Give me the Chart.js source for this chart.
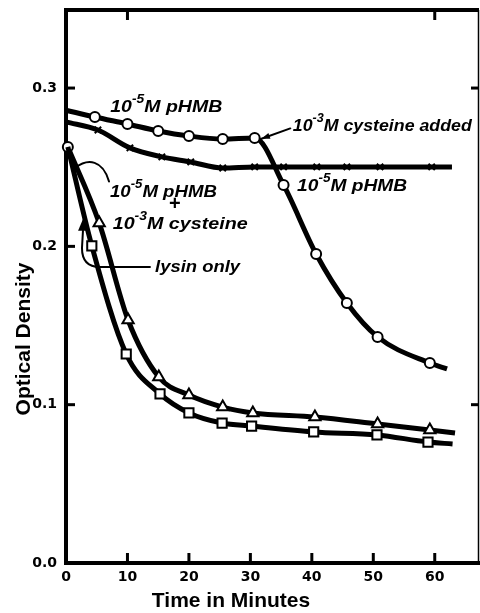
<!DOCTYPE html>
<html><head><meta charset="utf-8">
<script src="https://cdn.jsdelivr.net/npm/chart.js@4.4.1/dist/chart.umd.min.js"></script>
<style>html,body{margin:0;padding:0;background:#fff;}#wrap{width:480px;height:613px;position:relative;}</style>
</head><body><div id="wrap"><canvas id="c" width="480" height="613"></canvas></div>
<script>
// ---- data ----
const xTicks = [0, 10, 20, 30, 40, 50, 60];
const yTicks = [0.0, 0.1, 0.2, 0.3];
// 10^-5 M pHMB, then 10^-3 M cysteine added at ~30 min (open circles)
const pHMBTime = [0, 4.7, 10, 15, 20, 25.5, 30.7, 35.4, 40.7, 45.7, 50.7, 59.2, 62];
const pHMBOD   = [0.286, 0.2817, 0.2773, 0.2729, 0.2697, 0.2678, 0.2685, 0.2388, 0.1952, 0.1642, 0.1428, 0.1263, 0.1226];
// 10^-5 M pHMB (crosses)
const crossTime = [0, 5.2, 10.4, 15.6, 20.3, 25.5, 30.7, 35.4, 40.8, 45.7, 51.1, 59.5, 62.8];
const crossOD   = [0.2786, 0.2735, 0.2622, 0.2565, 0.2533, 0.2495, 0.2502, 0.2502, 0.2502, 0.2502, 0.2502, 0.2502, 0.2502];
// 10^-5 M pHMB + 10^-3 M cysteine (triangles)
const triTime = [0.3, 5.4, 10.1, 15.1, 20, 25.5, 30.4, 40.5, 50.7, 59.2, 63.3];
const triOD   = [0.2628, 0.2148, 0.1535, 0.1175, 0.1061, 0.0985, 0.0948, 0.0922, 0.0878, 0.0840, 0.0821];
// lysin only (squares)
const sqTime = [0.3, 4.2, 9.8, 15.3, 20, 25.4, 30.2, 40.3, 50.6, 58.9, 62.9];
const sqOD   = [0.2628, 0.2003, 0.1320, 0.1068, 0.0948, 0.0884, 0.0865, 0.0828, 0.0809, 0.0764, 0.0752];

const xTitle = 'Time in Minutes';
const yTitle = 'Optical Density';
const labelPHMBTop   = [['10',0],['-5',1],['M pHMB',0]];
const labelCysAdded  = [['10',0],['-3',1],['M cysteine added',0]];
const labelPHMBRight = [['10',0],['-5',1],['M pHMB',0]];
const labelPHMBLow   = [['10',0],['-5',1],['M pHMB',0]];
const labelCys       = [['10',0],['-3',1],['M cysteine',0]];
const labelLysin     = [['lysin only',0]];

const pts = (xs, ys) => xs.map((x, i) => ({x, y: ys[i]}));
const ends = (n, r) => Array.from({length: n}, (_, i) => (i === 0 || i === n - 1) ? 0 : r);

function drawRich(ctx, parts, x, y, size, width) {
  const big = `italic bold ${size}px "Liberation Sans", Arial, sans-serif`;
  const small = `italic bold ${Math.round(size * 0.68)}px "Liberation Sans", Arial, sans-serif`;
  let w = 0;
  parts.forEach(p => { ctx.font = p[1] ? small : big; w += ctx.measureText(p[0]).width; });
  const sx = width ? width / w : 1;
  ctx.save();
  ctx.translate(x, y); ctx.scale(sx, 1);
  ctx.textAlign = 'left'; ctx.textBaseline = 'alphabetic';
  let cx = 0;
  parts.forEach(p => {
    ctx.font = p[1] ? small : big;
    ctx.fillText(p[0], cx, p[1] ? -size * 0.5 : 0);
    cx += ctx.measureText(p[0]).width;
  });
  ctx.restore();
}

const decor = {
  id: 'decor',
  afterDraw(chart) {
    const ctx = chart.ctx, a = chart.chartArea;
    const X = v => chart.scales.x.getPixelForValue(v);
    const Y = v => chart.scales.y.getPixelForValue(v);
    ctx.save();
    ctx.strokeStyle = '#000'; ctx.fillStyle = '#000';
    // frame top and right
    ctx.lineWidth = 4;
    ctx.beginPath(); ctx.moveTo(a.left - 2, a.top); ctx.lineTo(a.right, a.top); ctx.stroke();
    ctx.lineWidth = 1.5;
    ctx.beginPath(); ctx.moveTo(a.right - 0.5, a.top); ctx.lineTo(a.right - 0.5, a.bottom); ctx.stroke();
    // inward ticks
    ctx.lineWidth = 3;
    xTicks.slice(1).forEach(v => { ctx.beginPath(); ctx.moveTo(X(v), a.bottom); ctx.lineTo(X(v), a.bottom - 10); ctx.stroke(); });
    [10, 60].forEach(v => { ctx.beginPath(); ctx.moveTo(X(v), a.top); ctx.lineTo(X(v), a.top + 10); ctx.stroke(); });
    yTicks.slice(1).forEach(v => { ctx.beginPath(); ctx.moveTo(a.left, Y(v)); ctx.lineTo(a.left + 9, Y(v)); ctx.stroke(); });
    [0.1, 0.3].forEach(v => { ctx.beginPath(); ctx.moveTo(a.right, Y(v)); ctx.lineTo(a.right - 8, Y(v)); ctx.stroke(); });

    // axis titles
    ctx.font = 'bold 21px "Liberation Sans", Arial, sans-serif';
    ctx.textAlign = 'center'; ctx.textBaseline = 'middle';
    ctx.fillText(xTitle, 231, 601);
    ctx.save(); ctx.translate(24, 339); ctx.rotate(-Math.PI / 2);
    ctx.fillText(yTitle, 0, 0); ctx.restore();

    // annotations
    drawRich(ctx, labelPHMBTop, X(7.2), Y(0.2849), 17, 112);
    drawRich(ctx, labelCysAdded, X(36.9), Y(0.2729), 17, 179);
    drawRich(ctx, labelPHMBRight, X(37.6), Y(0.2350), 17, 110);
    drawRich(ctx, labelPHMBLow, X(7.15), Y(0.2312), 17, 107);
    ctx.font = 'bold 20px "Liberation Sans", Arial, sans-serif';
    ctx.textAlign = 'center'; ctx.textBaseline = 'middle';
    ctx.fillText('+', X(17.7), Y(0.2262));
    drawRich(ctx, labelCys, X(7.6), Y(0.2110), 17, 135);
    drawRich(ctx, labelLysin, X(14.5), Y(0.1838), 17, 85);

    // leader lines
    ctx.lineWidth = 2; ctx.lineCap = 'round';
    // cysteine added arrow
    const ax0 = X(36.5), ay0 = Y(0.2745), ax1 = X(31.8), ay1 = Y(0.2680);
    ctx.beginPath(); ctx.moveTo(ax0, ay0); ctx.lineTo(ax1, ay1); ctx.stroke();
    let ang = Math.atan2(ay1 - ay0, ax1 - ax0);
    ctx.beginPath();
    ctx.moveTo(ax1, ay1);
    ctx.lineTo(ax1 - 9 * Math.cos(ang - 0.35), ay1 - 9 * Math.sin(ang - 0.35));
    ctx.lineTo(ax1 - 9 * Math.cos(ang + 0.35), ay1 - 9 * Math.sin(ang + 0.35));
    ctx.closePath(); ctx.fill();
    // pHMB + cysteine leader
    ctx.beginPath();
    ctx.moveTo(X(1.46), Y(0.2495));
    ctx.bezierCurveTo(X(3.58), Y(0.2559), X(6.0), Y(0.2546), X(7.0), Y(0.2410));
    ctx.stroke();
    // lysin only leader
    ctx.beginPath();
    ctx.moveTo(X(2.76), Y(0.2098));
    ctx.lineTo(X(2.6), Y(0.199));
    ctx.quadraticCurveTo(X(2.6), Y(0.1870), X(5.5), Y(0.1870));
    ctx.lineTo(X(13.66), Y(0.1870));
    ctx.stroke();
    const tx = X(2.78), ty = Y(0.2175);
    ctx.beginPath(); ctx.moveTo(tx, ty); ctx.lineTo(tx - 5, ty + 12); ctx.lineTo(tx + 5, ty + 12); ctx.closePath(); ctx.fill();
    ctx.restore();
  }
};

const common = {
  borderColor: '#000', backgroundColor: '#fff', pointBorderColor: '#000', pointBackgroundColor: '#fff',
  borderWidth: 5, pointBorderWidth: 2, cubicInterpolationMode: 'monotone', clip: false, pointHoverRadius: 0
};

const noPad = s => { s.paddingTop = 0; s.paddingBottom = 0; s.paddingLeft = 0; s.paddingRight = 0; };

new Chart(document.getElementById('c'), {
  type: 'line',
  data: {
    datasets: [
      Object.assign({}, common, { label: 'pHMB + cysteine added', data: pts(pHMBTime, pHMBOD), pointStyle: 'circle', pointRadius: ends(pHMBTime.length, 5) }),
      Object.assign({}, common, { label: 'pHMB', data: pts(crossTime, crossOD), pointStyle: 'crossRot', pointRadius: ends(crossTime.length, 4.5), pointBorderWidth: 2 }),
      Object.assign({}, common, { label: 'lysin only', data: pts(sqTime, sqOD), pointStyle: 'rect', pointRadius: ends(sqTime.length, 6.5) }),
      Object.assign({}, common, { label: 'pHMB + cysteine', data: pts(triTime, triOD),
        pointStyle: triTime.map((_, i) => i === 0 ? 'circle' : 'triangle'),
        pointRadius: triTime.map((_, i) => i === 0 ? 5 : (i === triTime.length - 1 ? 0 : 6.5)) })
    ]
  },
  options: {
    responsive: false, animation: false, events: [],
    layout: { autoPadding: false, padding: { top: 10, right: 1, left: 0, bottom: 0 } },
    plugins: { legend: { display: false }, tooltip: { enabled: false } },
    scales: {
      x: {
        type: 'linear', min: 0, max: 67.2,
        afterFit: s => { s.height = 50; noPad(s); },
        afterBuildTicks: s => { s.ticks = xTicks.map(v => ({ value: v })); },
        grid: { display: true, drawOnChartArea: false, drawTicks: false },
        border: { display: true, width: 4, color: '#000' },
        ticks: { padding: 6, color: '#000', maxRotation: 0, font: { family: 'DejaVu Sans', weight: 'bold', size: 14 }, callback: v => String(v) }
      },
      y: {
        type: 'linear', min: 0, max: 0.3493,
        afterFit: s => { s.width = 66; noPad(s); },
        afterBuildTicks: s => { s.ticks = yTicks.map(v => ({ value: v })); },
        grid: { display: true, drawOnChartArea: false, drawTicks: false },
        border: { display: true, width: 4, color: '#000' },
        ticks: { padding: 9, color: '#000', font: { family: 'DejaVu Sans', weight: 'bold', size: 14 }, callback: v => Number(v).toFixed(1) }
      }
    }
  },
  plugins: [decor]
});
</script></body></html>
